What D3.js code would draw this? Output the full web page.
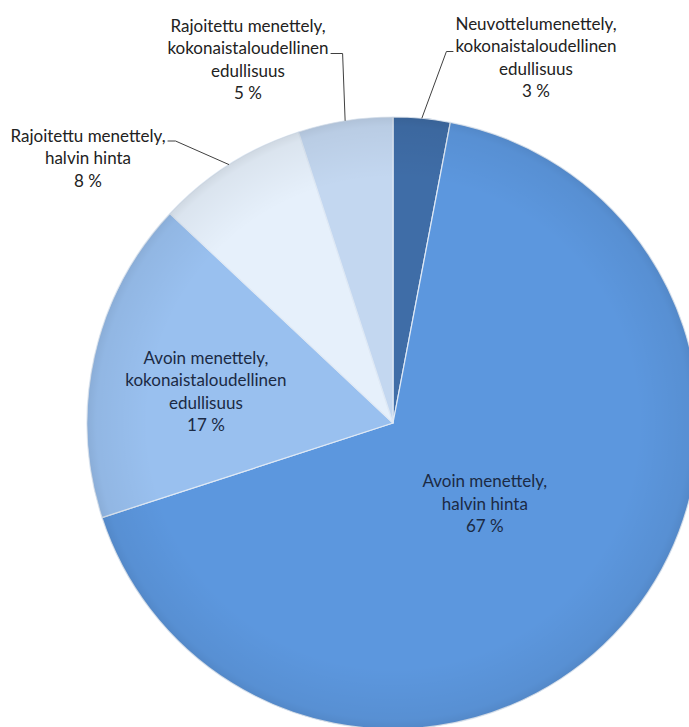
<!DOCTYPE html>
<html>
<head>
<meta charset="utf-8">
<script src="https://cdn.jsdelivr.net/npm/d3@7"></script>
<style>
  html, body { margin: 0; padding: 0; background: #ffffff; }
  svg { display: block; }
</style>
</head>
<body>
<svg id="chart" width="689" height="727"></svg>
<script>
// ---- data ----
const categories = [
  "Neuvottelumenettely, kokonaistaloudellinen edullisuus",
  "Avoin menettely, halvin hinta",
  "Avoin menettely, kokonaistaloudellinen edullisuus",
  "Rajoitettu menettely, halvin hinta",
  "Rajoitettu menettely, kokonaistaloudellinen edullisuus"
];
const values = [3, 67, 17, 8, 5];
const labelLines = [
  ["Neuvottelumenettely,", "kokonaistaloudellinen", "edullisuus"],
  ["Avoin menettely,", "halvin hinta"],
  ["Avoin menettely,", "kokonaistaloudellinen", "edullisuus"],
  ["Rajoitettu menettely,", "halvin hinta"],
  ["Rajoitettu menettely,", "kokonaistaloudellinen", "edullisuus"]
];
const colors = ["#3F6DA7", "#5C97DE", "#99C0EF", "#E6F0FB", "#C3D7F0"];

// ---- layout ----
const W = 689, H = 727;
const cx = 393, cy = 423, R = 306;
const fontSize = 17, lineH = 22.5;
const labelLayout = [
  { outside: true, x: 536, y: 24, lineFrom: "left", gap: 2, hook: 7 },
  { outside: false, k: 0.40 },
  { outside: false, k: 0.62, angleShift: -3 },
  { outside: true, x: 88, y: 136, lineFrom: "right", gap: 2, hook: 8 },
  { outside: true, x: 248, y: 26, lineFrom: "right", gap: 2, hook: 12 }
];

const svg = d3.select("#chart");
const defs = svg.append("defs");
const rg = defs.append("radialGradient").attr("id", "shade")
  .attr("cx", 0).attr("cy", 0).attr("r", R).attr("gradientUnits", "userSpaceOnUse");
rg.append("stop").attr("offset", "0.80").attr("stop-color", "#000").attr("stop-opacity", 0);
rg.append("stop").attr("offset", "0.97").attr("stop-color", "#000").attr("stop-opacity", 0.05);
rg.append("stop").attr("offset", "1").attr("stop-color", "#000").attr("stop-opacity", 0.10);

const g = svg.append("g").attr("transform", `translate(${cx},${cy})`);

const pie = d3.pie().sort(null).value(d => d).startAngle(0).endAngle(2 * Math.PI);
const arcs = pie(values);
const arc = d3.arc().innerRadius(0).outerRadius(R);

g.selectAll("path.slice").data(arcs).enter().append("path")
  .attr("class", "slice")
  .attr("d", arc)
  .attr("fill", (d, i) => colors[i])
  .attr("stroke", "#dfe9f5")
  .attr("stroke-width", 1.2)
  .attr("stroke-linejoin", "round");

g.selectAll("path.shade").data(arcs).enter().append("path")
  .attr("class", "shade")
  .attr("d", arc)
  .attr("fill", "url(#shade)");

// labels
const fmt = v => v + " %";
arcs.forEach((d, i) => {
  const L = labelLayout[i];
  const mid = (d.startAngle + d.endAngle) / 2;
  let x, y;
  if (L.outside) {
    x = L.x; y = L.y;
  } else {
    const a = mid + (L.angleShift || 0) * Math.PI / 180;
    x = cx + Math.sin(a) * R * L.k;
    y = cy - Math.cos(a) * R * L.k;
    const n = labelLines[i].length + 1;
    y = y - (n - 1) * lineH / 2;
  }
  const lines = labelLines[i].concat([fmt(values[i])]);
  const t = svg.append("text")
    .attr("text-anchor", "middle")
    .attr("font-family", "Lato, 'Open Sans', sans-serif")
    .attr("font-size", fontSize)
    .attr("fill", L.outside ? "#222222" : "#1b2a44");
  lines.forEach((s, j) => {
    t.append("tspan").attr("x", x).attr("y", y + j * lineH).attr("dy", "0.35em").text(s);
  });

  if (L.outside) {
    const px = cx + Math.sin(mid) * R, py = cy - Math.cos(mid) * R;
    const tspans = t.selectAll("tspan").nodes();
    const lineIdx = lines.length >= 4 ? 1 : 0;
    const w = tspans[lineIdx].getComputedTextLength();
    const ly = y + lineIdx * lineH + 5;
    let ex, hx;
    if (L.lineFrom === "left") { ex = x - w / 2 - L.gap; hx = ex - L.hook; }
    else { ex = x + w / 2 + L.gap; hx = ex + L.hook; }
    svg.append("polyline")
      .attr("points", [[ex, ly], [hx, ly], [px, py]].map(p => p.join(",")).join(" "))
      .attr("fill", "none")
      .attr("stroke", "#404040")
      .attr("stroke-width", 1);
  }
});
</script>
</body>
</html>
